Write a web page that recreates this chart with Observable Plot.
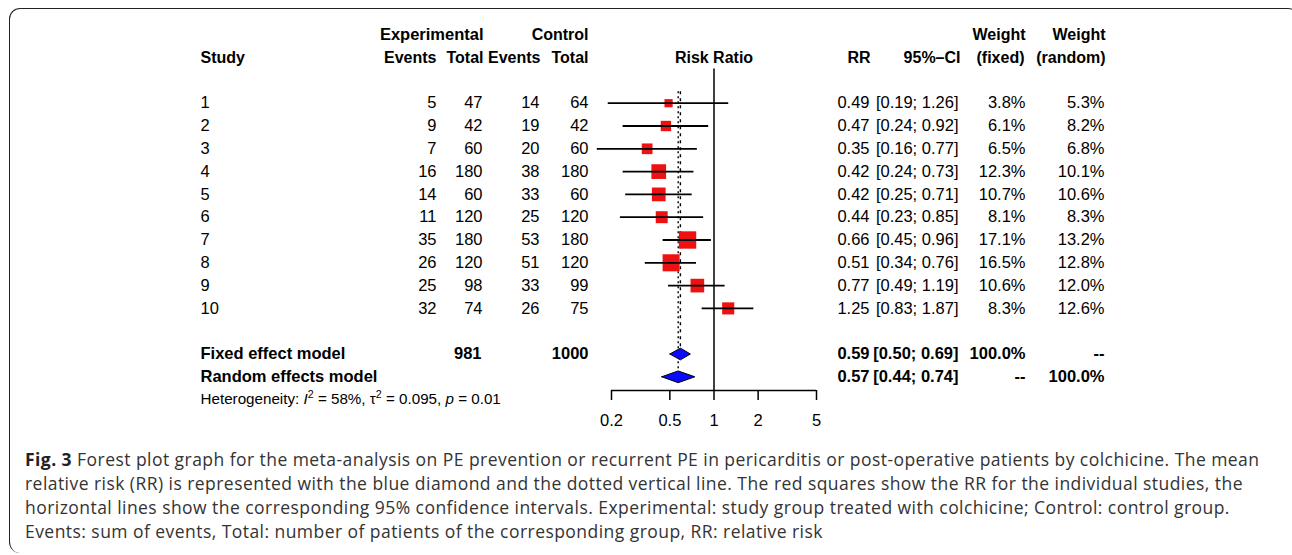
<!DOCTYPE html>
<html>
<head>
<meta charset="utf-8">
<script src="https://cdn.jsdelivr.net/npm/d3@7"></script>
<script src="https://cdn.jsdelivr.net/npm/@observablehq/plot@0.6"></script>
<style>
  html, body { margin: 0; padding: 0; background: #fff; }
  #wrap { position: relative; width: 1292px; height: 555px; overflow: hidden; background: #fff; }
  #frame { position: absolute; left: 9px; top: 8px; width: 1290px; height: 545px;
    border-top: 1.6px solid #222; border-left: 1.6px solid #222;
    border-radius: 11px 11px 0 11px; box-sizing: border-box; pointer-events: none; }
  #chart { position: absolute; left: 0; top: 0; }
  #caption { position: absolute; left: 25px; top: 447px; font-family: "Open Sans", sans-serif;
    font-size: 17.5px; letter-spacing: 0.45px; line-height: 24px; color: #333; white-space: nowrap; }
  #caption b { color: #222; }
</style>
</head>
<body>
<div id="wrap">
  <div id="chart"></div>
  <div id="caption">
    <div><b>Fig. 3</b> Forest plot graph for the meta-analysis on PE prevention or recurrent PE in pericarditis or post-operative patients by colchicine. The mean</div>
    <div>relative risk (RR) is represented with the blue diamond and the dotted vertical line. The red squares show the RR for the individual studies, the</div>
    <div>horizontal lines show the corresponding 95% confidence intervals. Experimental: study group treated with colchicine; Control: control group.</div>
    <div>Events: sum of events, Total: number of patients of the corresponding group, RR: relative risk</div>
  </div>
  <div id="frame"></div>
</div>
<script>
// ---------- data ----------
const studies     = ["1","2","3","4","5","6","7","8","9","10"];
const expEvents   = [5, 9, 7, 16, 14, 11, 35, 26, 25, 32];
const expTotal    = [47, 42, 60, 180, 60, 120, 180, 120, 98, 74];
const ctrlEvents  = [14, 19, 20, 38, 33, 25, 53, 51, 33, 26];
const ctrlTotal   = [64, 42, 60, 180, 60, 120, 180, 120, 99, 75];
const rr          = [0.49, 0.47, 0.35, 0.42, 0.42, 0.44, 0.66, 0.51, 0.77, 1.25];
const ciLower     = [0.19, 0.24, 0.16, 0.24, 0.25, 0.23, 0.45, 0.34, 0.49, 0.83];
const ciUpper     = [1.26, 0.92, 0.77, 0.73, 0.71, 0.85, 0.96, 0.76, 1.19, 1.87];
const weightFixed = [3.8, 6.1, 6.5, 12.3, 10.7, 8.1, 17.1, 16.5, 10.6, 8.3];
const weightRandom= [5.3, 8.2, 6.8, 10.1, 10.6, 8.3, 13.2, 12.8, 12.0, 12.6];

const models      = ["Fixed effect model", "Random effects model"];
const modelRR     = [0.59, 0.57];
const modelLower  = [0.50, 0.44];
const modelUpper  = [0.69, 0.74];
const modelWFixed = ["100.0%", "--"];
const modelWRand  = ["--", "100.0%"];
const totalExp    = 981;
const totalCtrl   = 1000;
const hetI2 = "58%", hetTau2 = "0.095", hetP = "0.01";

const xTicks = [0.2, 0.5, 1, 2, 5];

// ---------- layout ----------
const W = 1292, H = 440;
const mL = 611, mR = W - 816;
const fmt2 = d => d.toFixed(2);
const rows = studies.map((s, i) => ({
  row: i + 1, study: s, ee: String(expEvents[i]), et: String(expTotal[i]), ce: String(ctrlEvents[i]), ct: String(ctrlTotal[i]),
  rr: rr[i], lo: ciLower[i], hi: ciUpper[i], wf: weightFixed[i], wr: weightRandom[i]
}));
const mrows = models.map((m, i) => ({
  row: 12 + i, model: m, rr: modelRR[i], lo: modelLower[i], hi: modelUpper[i],
  wf: modelWFixed[i], wr: modelWRand[i],
  et: i === 0 ? String(totalExp) : "", ct: i === 0 ? String(totalCtrl) : ""
}));
const axisRow = 13.6;
const halfH = 0.257;
const diamonds = mrows.flatMap(d => [
  {m: d.model, x: d.lo, y: d.row}, {m: d.model, x: d.rr, y: d.row - halfH},
  {m: d.model, x: d.hi, y: d.row}, {m: d.model, x: d.rr, y: d.row + halfH},
  {m: d.model, x: d.lo, y: d.row}
]);

const FS = 16.5, HFS = 16;
function col(data, text, px, anchor, bold, extra = {}) {
  return Plot.text(data, {
    y: "row", text, frameAnchor: "left", dx: px - mL, textAnchor: anchor,
    fontWeight: bold ? "bold" : "normal", fontSize: FS, fill: "#000", ...extra
  });
}
const H1 = {fontSize: HFS};
const hdr1 = [{row: -2}], hdr2 = [{row: -1}];

const chart = Plot.plot({
  width: W, height: H, marginLeft: mL, marginRight: mR, marginTop: 0, marginBottom: H - 390,
  style: {fontFamily: "'Liberation Sans', Arial, sans-serif", background: "transparent", color: "#000", overflow: "visible"},
  x: {type: "log", domain: [0.2, 5], label: null},
  y: {domain: [0, 14], range: [79.9, 399.1], axis: null},
  r: {type: "sqrt", domain: [0, 17.1], range: [0, 9.8]},
  marks: [
    // headers
    col(hdr1, () => "Experimental", 483, "end", true, {fontSize: 16.5}),
    col(hdr1, () => "Control", 588, "end", true, H1),
    col(hdr1, () => "Weight", 1025, "end", true, H1),
    col(hdr1, () => "Weight", 1105, "end", true, H1),
    col(hdr2, () => "Study", 200, "start", true, H1),
    col(hdr2, () => "Events", 436, "end", true, H1),
    col(hdr2, () => "Total", 483, "end", true, H1),
    col(hdr2, () => "Events", 540, "end", true, H1),
    col(hdr2, () => "Total", 588, "end", true, H1),
    Plot.text(hdr2, {x: 1, y: "row", text: () => "Risk Ratio", fontWeight: "bold", fontSize: HFS, fill: "#000"}),
    col(hdr2, () => "RR", 870, "end", true, H1),
    col(hdr2, () => "95%\u2013CI", 960, "end", true, H1),
    col(hdr2, () => "(fixed)", 1024, "end", true, H1),
    col(hdr2, () => "(random)", 1105, "end", true, H1),
    // study rows
    col(rows, "study", 200, "start", false),
    col(rows, "ee", 436, "end", false),
    col(rows, "et", 482, "end", false),
    col(rows, "ce", 539, "end", false),
    col(rows, "ct", 588, "end", false),
    col(rows, d => fmt2(d.rr), 869, "end", false),
    col(rows, d => `[${fmt2(d.lo)}; ${fmt2(d.hi)}]`, 958, "end", false),
    col(rows, d => `${d.wf.toFixed(1)}%`, 1025, "end", false),
    col(rows, d => `${d.wr.toFixed(1)}%`, 1104, "end", false),
    // summary rows
    col(mrows, "model", 200, "start", true),
    col(mrows, "et", 481, "end", true),
    col(mrows, "ct", 588, "end", true),
    col(mrows, d => fmt2(d.rr), 869, "end", true),
    col(mrows, d => `[${fmt2(d.lo)}; ${fmt2(d.hi)}]`, 958, "end", true),
    col(mrows, "wf", 1025, "end", true),
    col(mrows, "wr", 1104, "end", true),
    col([{row: 14}], () => `Heterogeneity: I2 = ${hetI2}, \u03c42 = ${hetTau2}, p = ${hetP}`, 200, "start", false, {fontSize: 15.2}),
    // reference lines
    Plot.ruleX([1], {y1: -0.5, y2: axisRow, stroke: "#000", strokeWidth: 1.5}),
    Plot.ruleX([modelRR[0]], {y1: 0.5, y2: 12 - halfH, stroke: "#000", strokeWidth: 1.4, strokeDasharray: "3,4"}),
    Plot.ruleX([modelRR[1]], {y1: 0.5, y2: 13 - halfH, stroke: "#000", strokeWidth: 1.4, strokeDasharray: "2,3"}),
    // squares
    Plot.dot(rows, {x: "rr", y: "row", r: "wf", symbol: "square", fill: "#ee1111", stroke: "none"}),
    // CIs
    Plot.ruleY(rows, {y: "row", x1: "lo", x2: "hi", stroke: "#000", strokeWidth: 1.8}),
    Plot.dot(rows, {x: "rr", y: "row", r: 2.2, symbol: "plus", fill: "#000", stroke: "none"}),
    // diamonds
    Plot.line(diamonds, {x: "x", y: "y", z: "m", fill: "#0a0aff", stroke: "#000", strokeWidth: 1, curve: "linear"}),
    // axis
    Plot.ruleY([axisRow], {x1: xTicks[0], x2: xTicks[xTicks.length - 1], stroke: "#000", strokeWidth: 1.5}),
    Plot.axisX({ticks: xTicks, tickFormat: d => `${d}`, tickSize: 10, tickPadding: 14, fontSize: FS, stroke: "#000", strokeWidth: 1.5, label: null})
  ]
});
document.getElementById("chart").appendChild(chart);

// italic / superscript in heterogeneity line
d3.select(chart).selectAll("text")
  .filter(function() { return this.textContent.startsWith("Heterogeneity"); })
  .each(function() {
    const het = d3.select(this);
    het.text(null);
    het.append("tspan").text("Heterogeneity: ");
    het.append("tspan").attr("font-style", "italic").text("I");
    het.append("tspan").attr("baseline-shift", "super").attr("font-size", "70%").text("2");
    het.append("tspan").text(` = ${hetI2}, \u03c4`);
    het.append("tspan").attr("baseline-shift", "super").attr("font-size", "70%").text("2");
    het.append("tspan").text(` = ${hetTau2}, `);
    het.append("tspan").attr("font-style", "italic").text("p");
    het.append("tspan").text(` = ${hetP}`);
  });
</script>
</body>
</html>
